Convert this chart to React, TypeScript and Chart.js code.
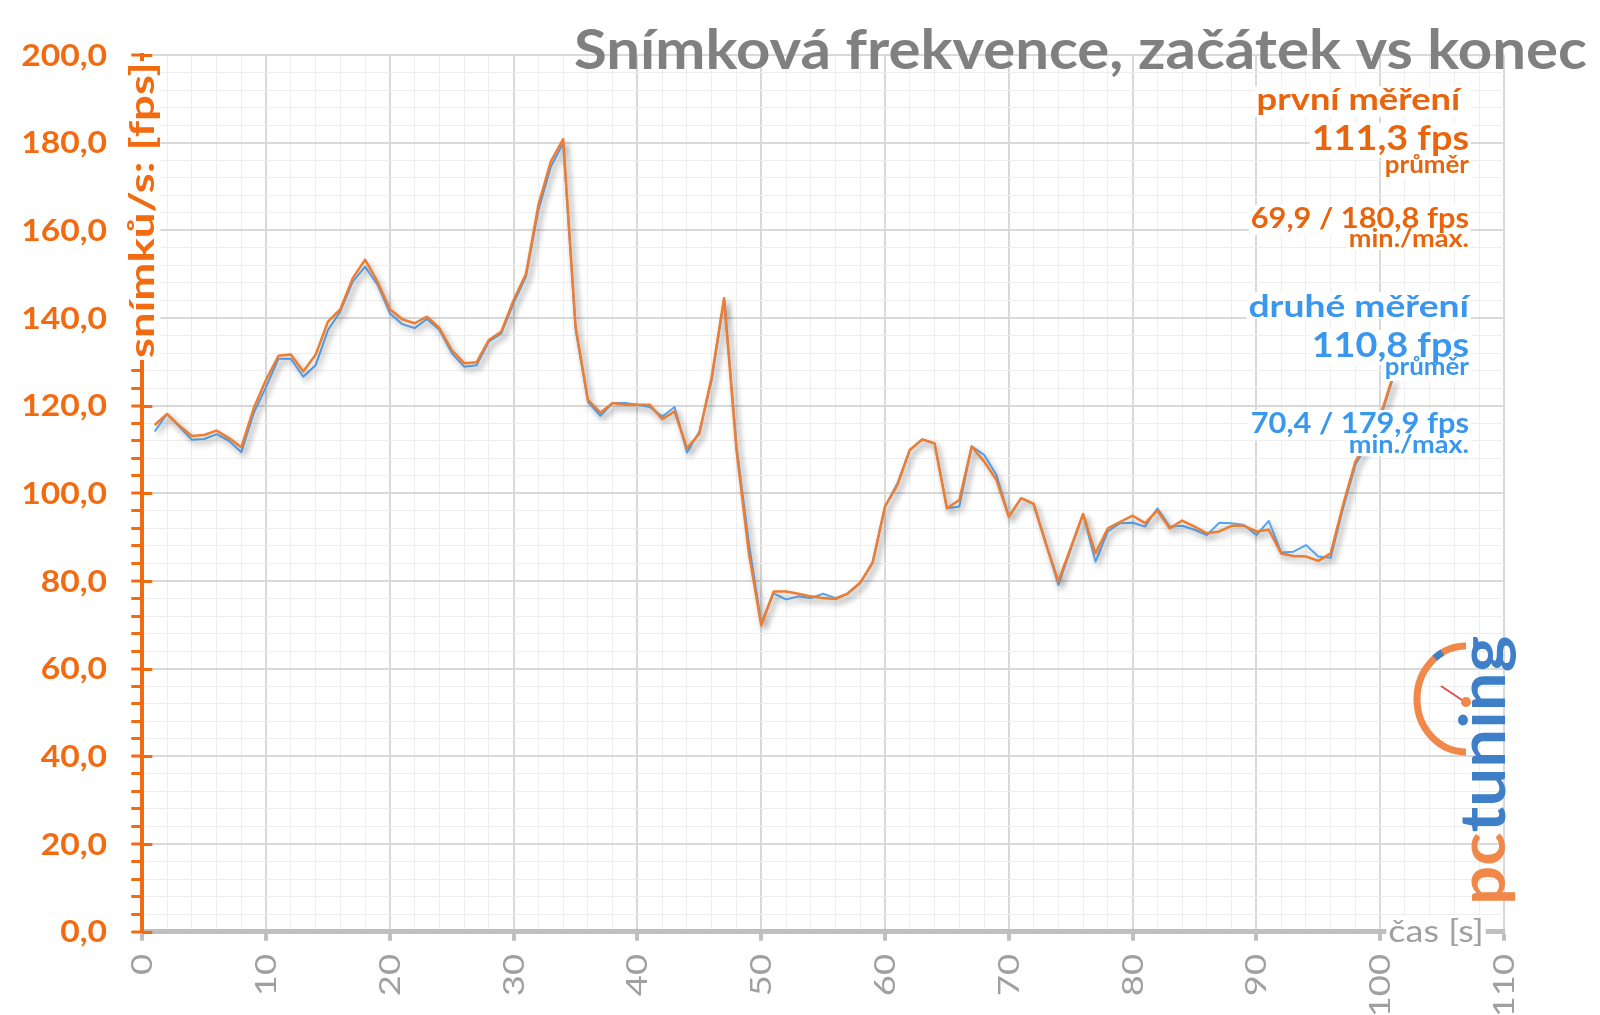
import React, { useEffect, useRef } from 'react';
import { Chart, registerables } from 'chart.js';

Chart.register(...registerables);

const seconds = [
  1, 2, 3, 4, 5, 6, 7, 8, 9, 10, 11, 12, 13, 14, 15, 16, 17, 18, 19, 20,
  21, 22, 23, 24, 25, 26, 27, 28, 29, 30, 31, 32, 33, 34, 35, 36, 37, 38, 39, 40,
  41, 42, 43, 44, 45, 46, 47, 48, 49, 50, 51, 52, 53, 54, 55, 56, 57, 58, 59, 60,
  61, 62, 63, 64, 65, 66, 67, 68, 69, 70, 71, 72, 73, 74, 75, 76, 77, 78, 79, 80,
  81, 82, 83, 84, 85, 86, 87, 88, 89, 90, 91, 92, 93, 94, 95, 96, 97, 98, 99, 100, 101,
];

const firstRun = [
  115.6, 118.1, 115.4, 113.1, 113.3, 114.3, 112.6, 110.5, 119.4, 125.9,
  131.4, 131.7, 127.8, 131.6, 139.2, 142.0, 149.1, 153.3, 148.3, 142.0,
  139.7, 138.8, 140.3, 137.7, 132.7, 129.7, 129.9, 135.0, 136.9, 144.1,
  150.1, 165.8, 175.7, 180.8, 138.0, 121.3, 118.4, 120.6, 120.2, 120.2,
  120.2, 116.9, 118.7, 110.3, 113.6, 126.6, 144.5, 109.9, 86.3, 69.9,
  77.6, 77.6, 77.1, 76.5, 76.1, 75.9, 77.2, 79.7, 84.1, 97.0,
  101.9, 109.9, 112.3, 111.4, 96.6, 98.5, 110.7, 107.3, 103.1, 94.7,
  98.9, 97.6, 88.5, 79.9, 87.6, 95.3, 86.3, 92.0, 93.5, 94.9,
  93.2, 96.1, 92.0, 93.8, 92.4, 90.9, 91.3, 92.6, 92.6, 91.3,
  91.7, 86.3, 85.7, 85.6, 84.6, 86.3, 97.4, 107.3, 112.0, 117.5, 126.5,
];

const secondRun = [
  114.1, 118.1, 115.2, 112.2, 112.4, 113.5, 112.0, 109.4, 118.3, 124.3,
  130.7, 130.7, 126.6, 129.2, 137.3, 141.5, 148.3, 151.7, 147.6, 141.1,
  138.6, 137.7, 139.8, 137.3, 132.0, 128.9, 129.2, 134.6, 136.5, 143.4,
  149.5, 164.6, 174.5, 179.9, 137.5, 120.9, 117.7, 120.6, 120.6, 120.2,
  119.7, 117.5, 119.7, 109.3, 114.1, 125.9, 144.5, 110.7, 88.6, 70.4,
  77.2, 75.8, 76.5, 76.1, 77.1, 76.1, 77.1, 79.5, 84.4, 97.0,
  102.3, 109.9, 112.3, 111.4, 96.6, 97.0, 110.7, 108.8, 104.2, 94.7,
  98.9, 97.6, 88.5, 79.1, 87.2, 95.3, 84.4, 91.3, 93.2, 93.3,
  92.4, 96.6, 92.4, 92.6, 91.7, 90.5, 93.3, 93.2, 92.8, 90.5,
  93.7, 86.5, 86.7, 88.2, 85.6, 85.3, 96.6, 106.5, 111.5, 117.0, 126.0,
];

const seriesNames = ['první měření', 'druhé měření'];
const firstRunNotes = ['první měření ', '111,3 fps', 'průměr', '69,9 / 180,8 fps', 'min./max.'];
const secondRunNotes = ['druhé měření', '110,8 fps', 'průměr', '70,4 / 179,9 fps', 'min./max.'];
const chartTitle = 'Snímková frekvence, začátek vs konec';
const yAxisTitle = 'snímků/s: [fps]';
const xAxisTitle = 'čas [s]';
const logoParts = ['pc', 'tuning'];

const FONT = "Lato, 'Open Sans', sans-serif";
const ORANGE_AXIS = '#F26B10';
const ORANGE_TEXT = '#E8650E';
const BLUE_TEXT = '#3A97EE';
const ORANGE_LINE = '#ED7D31';
const BLUE_LINE = '#5AA5F0';
const GRAY_LABEL = '#A0A0A0';

type Align = 'left' | 'right' | 'center';

function textBox(ctx: CanvasRenderingContext2D, text: string, x: number, y: number, font: string, align: Align, sx: number) {
  ctx.save();
  ctx.font = font;
  const m = ctx.measureText(text);
  const w = m.width * sx;
  const left = align === 'right' ? x - w : align === 'center' ? x - w / 2 : x;
  const asc = m.actualBoundingBoxAscent;
  const desc = m.actualBoundingBoxDescent;
  ctx.fillStyle = '#ffffff';
  ctx.fillRect(left - 2, y - asc - 2, w + 4, asc + desc + 4);
  ctx.restore();
}

function drawText(ctx: CanvasRenderingContext2D, text: string, x: number, y: number, font: string, color: string, align: Align, sx: number) {
  ctx.save();
  ctx.font = font;
  const w = ctx.measureText(text).width * sx;
  const left = align === 'right' ? x - w : align === 'center' ? x - w / 2 : x;
  ctx.translate(left, y);
  ctx.scale(sx, 1);
  ctx.textAlign = 'left';
  ctx.textBaseline = 'alphabetic';
  ctx.fillStyle = color;
  ctx.fillText(text, 0, 0);
  ctx.restore();
}

const decorPlugin = {
  id: 'decor',
  beforeDatasetsDraw(chart: any) {
    const c = chart.ctx;
    c.save();
    c.shadowColor = 'rgba(0,0,0,0.3)';
    c.shadowBlur = 6;
    c.shadowOffsetX = 3;
    c.shadowOffsetY = 4;
  },
  afterDatasetsDraw(chart: any) {
    chart.ctx.restore();
  },
  afterDraw(chart: any) {
    const ctx: CanvasRenderingContext2D = chart.ctx;
    const { x, y } = chart.scales;
    const area = chart.chartArea;

    // y major ticks extend into plot
    ctx.save();
    ctx.strokeStyle = ORANGE_AXIS;
    ctx.lineWidth = 3;
    y.ticks.forEach((t: any) => {
      if (t.value % 20 === 0) {
        const py = Math.round(y.getPixelForValue(t.value)) + 0.5;
        ctx.beginPath();
        ctx.moveTo(area.left, py);
        ctx.lineTo(area.left + 10, py);
        ctx.stroke();
      }
    });
    ctx.restore();

    // y tick labels
    y.ticks.forEach((t: any) => {
      if (t.value % 20 === 0) {
        const py = y.getPixelForValue(t.value);
        drawText(ctx, t.value.toFixed(1).replace('.', ','), 107, py + 10.5, `bold 30px ${FONT}`, ORANGE_AXIS, 'right', 1.12);
      }
    });

    // x tick labels (rotated)
    x.ticks.forEach((t: any) => {
      if (t.value % 10 === 0) {
        const px = x.getPixelForValue(t.value);
        ctx.save();
        ctx.translate(px + 10, 954);
        ctx.rotate(-Math.PI / 2);
        drawText(ctx, String(t.value), 0, 0, `28px ${FONT}`, GRAY_LABEL, 'right', 1.3);
        ctx.restore();
      }
    });

    // y axis title
    ctx.save();
    ctx.translate(area.left, 210);
    ctx.rotate(-Math.PI / 2);
    ctx.font = `bold 35px ${FONT}`;
    const ytw = ctx.measureText(yAxisTitle).width * 1.3;
    ctx.fillStyle = '#ffffff';
    ctx.fillRect(-ytw / 2 - 2, -22, ytw + 3, 40);
    drawText(ctx, yAxisTitle, 0, 12, `bold 35px ${FONT}`, ORANGE_AXIS, 'center', 1.3);
    ctx.restore();

    // x axis title
    textBox(ctx, xAxisTitle, 1436, 942, `30px ${FONT}`, 'center', 1.2);
    drawText(ctx, xAxisTitle, 1436, 942, `30px ${FONT}`, GRAY_LABEL, 'center', 1.2);

    // chart title
    drawText(ctx, chartTitle, 1587, 69, `bold 55px ${FONT}`, '#808080', 'right', 1.09);

    // annotations
    const f = (s: number) => `bold ${s}px ${FONT}`;
    const R = 1469;
    const notes: [string, number, number, string, number][] = [
      [firstRunNotes[0], 110, 31, ORANGE_TEXT, 1.17],
      [firstRunNotes[1], 150, 35, ORANGE_TEXT, 1.08],
      [firstRunNotes[2], 173, 24, ORANGE_TEXT, 1.08],
      [firstRunNotes[3], 228, 28, ORANGE_TEXT, 1.1],
      [firstRunNotes[4], 247, 24, ORANGE_TEXT, 1.13],
      [secondRunNotes[0], 317, 31, BLUE_TEXT, 1.2],
      [secondRunNotes[1], 357, 35, BLUE_TEXT, 1.08],
      [secondRunNotes[2], 375, 24, BLUE_TEXT, 1.08],
      [secondRunNotes[3], 433, 28, BLUE_TEXT, 1.1],
      [secondRunNotes[4], 453, 24, BLUE_TEXT, 1.13],
    ];
    notes.forEach(([t, yb, s, , sx]) => textBox(ctx, t, R, yb, f(s), 'right', sx));
    notes.forEach(([t, yb, s, col, sx]) => drawText(ctx, t, R, yb, f(s), col, 'right', sx));

    // logo
    ctx.save();
    ctx.lineCap = 'butt';
    ctx.strokeStyle = '#F0884A';
    ctx.lineWidth = 7;
    ctx.beginPath();
    ctx.ellipse(1466, 699, 49, 53, 0, -Math.PI / 2, Math.PI / 2, true);
    ctx.stroke();
    ctx.strokeStyle = '#3F7FC8';
    ctx.beginPath();
    ctx.ellipse(1466, 699, 49, 53, 0, -Math.PI * 0.72, -Math.PI * 0.66, false);
    ctx.stroke();
    ctx.strokeStyle = '#E05050';
    ctx.lineWidth = 2;
    ctx.beginPath();
    ctx.moveTo(1465, 702);
    ctx.lineTo(1441, 686);
    ctx.stroke();
    ctx.fillStyle = '#F0884A';
    ctx.beginPath();
    ctx.arc(1466, 702, 5, 0, Math.PI * 2);
    ctx.fill();
    ctx.translate(1505, 905);
    ctx.rotate(-Math.PI / 2);
    ctx.font = `bold 64px ${FONT}`;
    ctx.scale(1.08, 1);
    ctx.fillStyle = '#F0884A';
    ctx.fillText(logoParts[0], 0, 0);
    const pw = ctx.measureText(logoParts[0]).width;
    ctx.fillStyle = '#3F7FC8';
    ctx.fillText(logoParts[1], pw, 0);
    ctx.restore();
  },
};

export default function App() {
  const ref = useRef<HTMLCanvasElement | null>(null);
  useEffect(() => {
    document.body.style.margin = '0';
    const canvas = ref.current;
    if (!canvas) return;
    const chart = new Chart(canvas, {
      type: 'line',
      data: {
        datasets: [
          {
            label: seriesNames[0],
            data: seconds.map((s, i) => ({ x: s, y: firstRun[i] })),
            borderColor: ORANGE_LINE,
            borderWidth: 2.5,
            pointRadius: 0,
            tension: 0,
            borderJoinStyle: 'round',
          },
          {
            label: seriesNames[1],
            data: seconds.map((s, i) => ({ x: s, y: secondRun[i] })),
            borderColor: BLUE_LINE,
            borderWidth: 2,
            pointRadius: 0,
            tension: 0,
            borderJoinStyle: 'round',
          },
        ],
      },
      options: {
        responsive: false,
        animation: false,
        devicePixelRatio: 1,
        layout: { padding: { top: 55, right: 96, left: 0, bottom: 0 } },
        plugins: { legend: { display: false }, tooltip: { enabled: false }, title: { display: false } },
        scales: {
          x: {
            type: 'linear',
            min: 0,
            max: 110,
            afterFit: (s: any) => { s.height = 83.3; },
            ticks: { stepSize: 2, autoSkip: false, display: false },
            grid: {
              color: (c: any) => (c.tick && c.tick.value % 10 === 0 ? '#D9D9D9' : '#EEEEEE'),
              lineWidth: (c: any) => (c.tick && c.tick.value % 10 === 0 ? 2 : 1),
              tickColor: (c: any) => (c.tick && c.tick.value % 10 === 0 ? '#BFBFBF' : 'rgba(0,0,0,0)'),
              tickLength: 9,
              tickWidth: 4,
            },
            border: { display: true, color: '#BFBFBF', width: 5 },
          },
          y: {
            min: 0,
            max: 200,
            afterFit: (s: any) => { s.width = 142.3; },
            ticks: { stepSize: 4, autoSkip: false, display: false },
            grid: {
              color: (c: any) => (c.tick && c.tick.value % 20 === 0 ? '#D9D9D9' : '#EEEEEE'),
              lineWidth: (c: any) => (c.tick && c.tick.value % 20 === 0 ? 2 : 1),
              tickColor: ORANGE_AXIS,
              tickLength: 11,
              tickWidth: 3,
            },
            border: { display: true, color: ORANGE_AXIS, width: 4 },
          },
        },
      },
      plugins: [decorPlugin],
    });
    return () => chart.destroy();
  }, []);
  return (
    <div style={{ position: 'absolute', left: 0, top: 0, width: 1600, height: 1015, background: '#fff' }}>
      <canvas ref={ref} width={1600} height={1015} />
    </div>
  );
}
